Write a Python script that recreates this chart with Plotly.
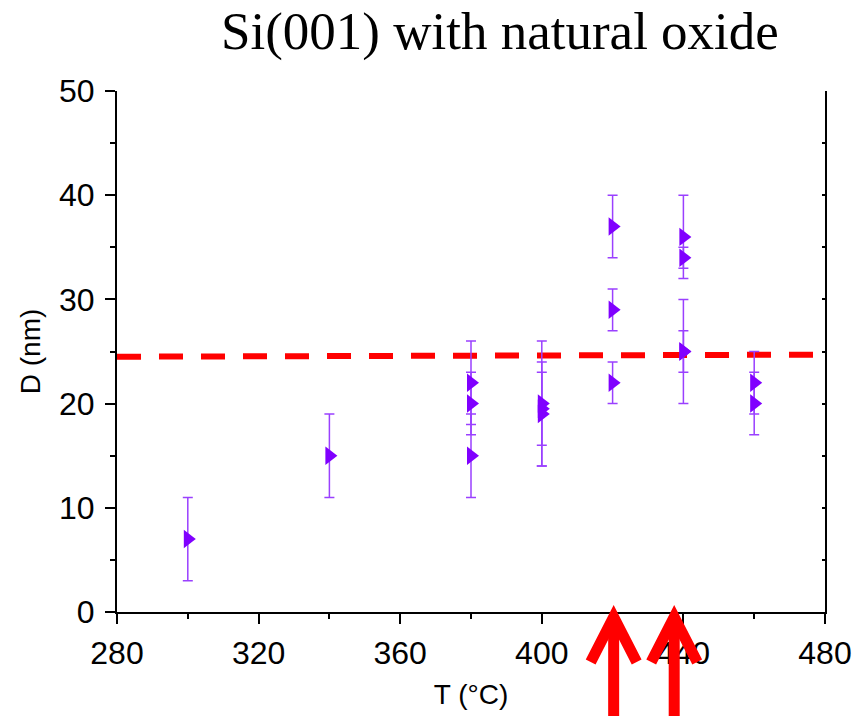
import plotly.graph_objects as go

# Data
temps = [300, 340, 380, 380, 380, 400, 400, 400, 420, 420, 420, 440, 440, 440, 440, 460, 460]
diam = [7, 15, 22, 20, 15, 20, 19, 19.5, 37, 29, 22, 36, 34, 25, 25, 22, 20]
err = [4, 4, 4, 3, 4, 6, 5, 3.5, 3, 2, 2, 4, 1, 5, 2, 3, 3]

line_x = [280, 480]
line_y = [24.5, 24.7]

arrow_x = [420.3, 437.4]

x_range = [280, 480]
title_text = "Si(001) with natural oxide"
x_title = "T (°C)"
y_title = "D (nm)"

purple = "#8000FF"

fig = go.Figure()

fig.add_trace(go.Scatter(
    x=line_x, y=line_y, mode="lines",
    line=dict(color="#FF0000", width=6, dash="24px,18px"),
    showlegend=False, hoverinfo="skip"))

fig.add_trace(go.Scatter(
    x=temps, y=diam, mode="markers",
    marker=dict(symbol="triangle-right", size=16, color=purple, line=dict(width=0)),
    error_y=dict(type="data", array=err, visible=True, color="#9A40FF", thickness=1.5, width=5),
    showlegend=False))

# right axis line via second y axis
fig.add_trace(go.Scatter(x=[None], y=[None], yaxis="y2", showlegend=False))

font_sans = "Liberation Sans, Arial, sans-serif"

fig.update_layout(
    width=868, height=716,
    margin=dict(l=117, r=43, t=91, b=104),
    paper_bgcolor="white", plot_bgcolor="white",
    xaxis=dict(
        range=x_range, dtick=40, tick0=280,
        showline=True, linecolor="black", linewidth=2,
        ticks="outside", ticklen=10, tickwidth=2, tickcolor="black",
        minor=dict(dtick=20, ticks="outside", ticklen=5, tickwidth=2, tickcolor="black"),
        showgrid=False, zeroline=False, ticklabelstandoff=2,
        tickfont=dict(family=font_sans, size=32, color="black"),
        title=dict(text=x_title, font=dict(family=font_sans, size=28, color="black"), standoff=14),
    ),
    yaxis=dict(
        range=[0, 50], dtick=10, tick0=0,
        showline=True, linecolor="black", linewidth=2,
        ticks="outside", ticklen=10, tickwidth=2, tickcolor="black",
        minor=dict(dtick=5, ticks="outside", ticklen=5, tickwidth=2, tickcolor="black"),
        showgrid=False, zeroline=False, ticklabelstandoff=4,
        tickfont=dict(family=font_sans, size=32, color="black"),
        title=dict(text=y_title, font=dict(family=font_sans, size=28, color="black"), standoff=10),
    ),
    yaxis2=dict(
        range=[0, 50], overlaying="y", side="right", anchor="x",
        showline=True, linecolor="black", linewidth=2,
        ticks="inside", ticklen=3, tickwidth=2, tickcolor="black", dtick=5,
        showticklabels=False, showgrid=False, zeroline=False,
    ),
    annotations=[dict(
        text=title_text, xref="paper", yref="paper",
        x=(500 - 117) / (868 - 117 - 43), y=1, yshift=60, xanchor="center", yanchor="middle",
        showarrow=False, font=dict(family="Liberation Serif, Times New Roman, serif", size=53, color="black"),
    )],
)

shapes = []
for ax in arrow_x:
    px = (ax - x_range[0]) / (x_range[1] - x_range[0])
    shapes.append(dict(
        type="path", xref="paper", yref="paper", xsizemode="pixel", ysizemode="pixel",
        xanchor=px, yanchor=0,
        path="M 0,-8 L 0,-110",
        line=dict(color="#FF0000", width=11), layer="above"))
    shapes.append(dict(
        type="path", xref="paper", yref="paper", xsizemode="pixel", ysizemode="pixel",
        xanchor=px, yanchor=0,
        path="M -23,-50 L 0,-5 L 23,-50",
        line=dict(color="#FF0000", width=11), layer="above"))
fig.update_layout(shapes=shapes)

fig.write_html("out.html")
